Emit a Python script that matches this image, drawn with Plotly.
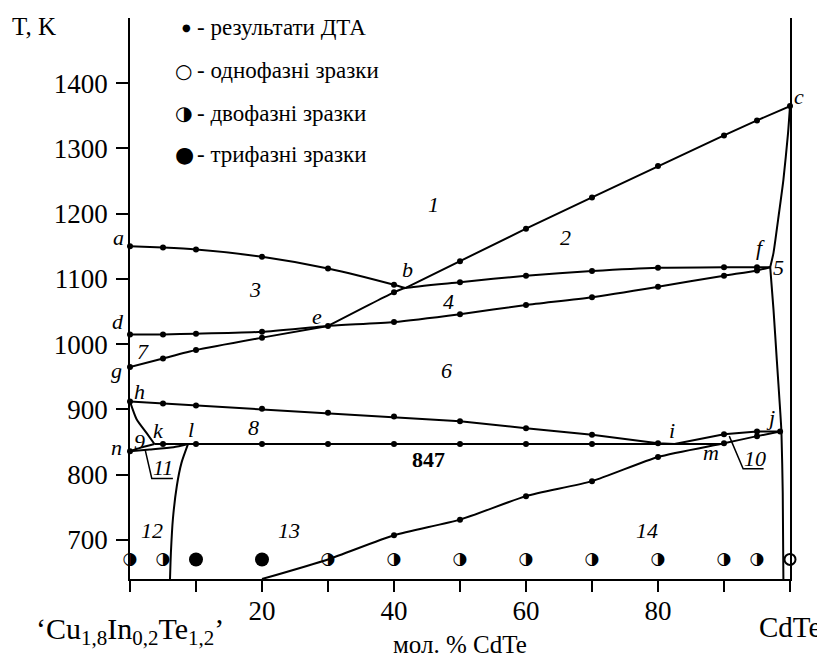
import plotly.graph_objects as go

# ---------------- data (mol. % CdTe, T in K) ----------------
ab_x = [0, 5, 10, 20, 30, 40, 41.7]
ab_T = [1150, 1148, 1145, 1134, 1116, 1091, 1086]
ab_dta = [0, 1, 2, 3, 4, 5]

bc_x = [41.7, 50, 60, 70, 80, 90, 95, 100]
bc_T = [1086, 1127, 1177, 1225, 1273, 1320, 1343, 1365]
bc_dta = [1, 2, 3, 4, 5, 6, 7]

ebf_x = [30, 40, 41.7, 50, 60, 70, 80, 90, 95, 97]
ebf_T = [1028, 1079.5, 1086, 1095, 1105, 1112, 1117, 1118, 1118, 1118]
ebf_dta = [0, 1, 3, 4, 5, 6, 7, 8]

def_x = [0, 5, 10, 20, 30, 40, 50, 60, 70, 80, 90, 95, 97]
def_T = [1015, 1015, 1016, 1019, 1028, 1034, 1046, 1060, 1072, 1088, 1105, 1113, 1118]
def_dta = [0, 1, 2, 3, 5, 6, 7, 8, 9, 10, 11]

ge_x = [0, 5, 10, 20, 30]
ge_T = [965, 978, 991, 1010, 1028]
ge_dta = [0, 1, 2, 3]

hij_x = [0, 5, 10, 20, 30, 40, 50, 60, 70, 80, 82.5, 90, 95, 98.5]
hij_T = [912, 909, 906, 901, 895, 889, 882, 871, 861, 848, 847, 862, 866, 866]
hij_dta = [0, 1, 2, 3, 4, 5, 6, 7, 8, 9, 11, 12]

hk_x = [0, 1, 2.5, 3.7]
hk_T = [912, 885, 864, 847]

nk_x = [0, 1.5, 3.7]
nk_T = [836, 841, 847]

nl_x = [0, 3, 6.6, 8.8]
nl_T = [836, 838.5, 842, 847]
nl_dta = [0]

lsolvus_x = [8.8, 7.8, 7.1, 6.5, 6.2, 6.06]
lsolvus_T = [847, 818, 783, 732, 681, 640]

eut_x = [3.7, 5, 10, 20, 30, 40, 50, 60, 70, 90]
eut_T = [847, 847, 847, 847, 847, 847, 847, 847, 847, 847]
eut_dta = [1, 2, 3, 4, 5, 6, 7, 8]

m_x = [20, 30, 40, 50, 60, 70, 80, 90, 95, 98.5]
m_T = [640, 670, 707, 731, 767, 790, 827, 848, 859, 866]
m_dta = [2, 3, 4, 5, 6, 7, 8, 9]

cf_x = [100, 99.7, 99.0, 98.2, 97.5, 97.0]
cf_T = [1365, 1323, 1252, 1191, 1140, 1118]

fbot_x = [97.0, 97.5, 98.0, 98.5, 98.7, 98.9, 99.0]
fbot_T = [1118, 1053, 976, 900, 866, 772, 640]

# samples annealed (phase analysis)
sample_T = 670
two_phase_x = [0, 5, 30, 40, 50, 60, 70, 80, 90, 95]
three_phase_x = [10, 20]
one_phase_x = [100]

# leader lines for small fields 10 and 11
lead10_x = [90.8, 92.9, 96.0]
lead10_T = [859, 809, 809]
lead11_x = [2.3, 3.3, 6.5]
lead11_T = [838, 794, 794]

y_ticks = [700, 800, 900, 1000, 1100, 1200, 1300, 1400]
x_ticks = [0, 10, 20, 30, 40, 50, 60, 70, 80, 90, 100]
x_ticktext = ["", "", "20", "", "40", "", "60", "", "80", "", ""]

field_labels = ["1", "2", "3", "4", "5", "6", "7", "8", "9", "10", "11", "12", "13", "14"]
field_x = [46.0, 66.0, 18.9, 48.2, 98.3, 48.0, 2.0, 18.7, 1.5, 94.7, 5.05, 3.3, 24.1, 78.3]
field_T = [1214, 1163, 1084, 1066, 1117, 959, 989, 872, 851, 824, 811, 714, 714, 714]

point_labels = ["a", "b", "c", "d", "e", "f", "g", "h", "i", "j", "k", "l", "m", "n"]
point_x = [-1.8, 42.0, 101.3, -1.8, 28.4, 95.6, -2.1, 1.5, 82.1, 97.0, 4.3, 9.3, 88.1, -2.1]
point_T = [1163, 1114, 1380, 1034, 1043, 1148, 959, 928, 867, 887, 867, 869, 834, 841]

legend_text = ["- результати ДТА", "- однофазні зразки", "- двофазні зразки", "- трифазні зразки"]
legend_glyph = ["●", "○", "◑", "●"]

# ---------------- figure ----------------
SERIF = "Liberation Serif, Times New Roman, serif"
X_MIN, X_MAX = 0, 100
fig = go.Figure()

LW = 2.0


def add_curve(xs, ts, shape="spline", smoothing=0.6):
    fig.add_trace(go.Scatter(x=xs, y=ts, mode="lines",
                             line=dict(color="black", width=LW, shape=shape,
                                       smoothing=smoothing if shape == "spline" else None),
                             hoverinfo="skip", showlegend=False, cliponaxis=False))


def add_dta(xs, ts, idx):
    fig.add_trace(go.Scatter(x=[xs[i] for i in idx], y=[ts[i] for i in idx], mode="markers",
                             marker=dict(color="black", size=6),
                             hoverinfo="skip", showlegend=False, cliponaxis=False))


add_curve(ab_x, ab_T)
add_curve(bc_x, bc_T, shape="linear")
add_curve(ebf_x, ebf_T)
add_curve(def_x, def_T)
add_curve(ge_x, ge_T)
add_curve(hij_x, hij_T, shape="linear")
add_curve(hk_x, hk_T)
add_curve(nk_x, nk_T)
add_curve(nl_x, nl_T)
add_curve(lsolvus_x, lsolvus_T)
add_curve(eut_x, eut_T, shape="linear")
add_curve(m_x, m_T)
add_curve(cf_x, cf_T)
add_curve(fbot_x, fbot_T)

fig.add_trace(go.Scatter(x=lead10_x, y=lead10_T, mode="lines", line=dict(color="black", width=1.5),
                         hoverinfo="skip", showlegend=False))
fig.add_trace(go.Scatter(x=lead11_x, y=lead11_T, mode="lines", line=dict(color="black", width=1.5),
                         hoverinfo="skip", showlegend=False))

add_dta(ab_x, ab_T, ab_dta)
add_dta(bc_x, bc_T, bc_dta)
add_dta(ebf_x, ebf_T, ebf_dta)
add_dta(def_x, def_T, def_dta)
add_dta(ge_x, ge_T, ge_dta)
add_dta(hij_x, hij_T, hij_dta)
add_dta(nl_x, nl_T, nl_dta)
add_dta(eut_x, eut_T, eut_dta)
add_dta(m_x, m_T, m_dta)

# samples
fig.add_trace(go.Scatter(x=three_phase_x, y=[sample_T] * len(three_phase_x), mode="markers",
                         marker=dict(color="black", size=14), hoverinfo="skip",
                         showlegend=False, cliponaxis=False))
fig.add_trace(go.Scatter(x=one_phase_x, y=[sample_T] * len(one_phase_x), mode="markers",
                         marker=dict(color="white", size=11, line=dict(color="black", width=2)),
                         hoverinfo="skip", showlegend=False, cliponaxis=False))
fig.add_trace(go.Scatter(x=two_phase_x, y=[sample_T] * len(two_phase_x), mode="text",
                         text=["◑"] * len(two_phase_x), textposition="middle center",
                         textfont=dict(family="DejaVu Sans", size=17, color="black"),
                         hoverinfo="skip", showlegend=False, cliponaxis=False))

annotations = []
for t, x, y in zip(field_labels, field_x, field_T):
    annotations.append(dict(x=x, y=y, xref="x", yref="y", text="<i>%s</i>" % t, showarrow=False,
                            xanchor="center", yanchor="middle",
                            font=dict(family=SERIF, size=22, color="black")))
annotations.append(dict(x=45.2, y=823, xref="x", yref="y", text="<b>847</b>", showarrow=False,
                        xanchor="center", yanchor="middle",
                        font=dict(family=SERIF, size=22, color="black")))
# point letters: x given as fraction of the composition axis so letters just outside stay visible
for t, x, y in zip(point_labels, point_x, point_T):
    annotations.append(dict(x=(x - X_MIN) / (X_MAX - X_MIN), y=y, xref="paper", yref="y",
                            text="<i>%s</i>" % t, showarrow=False,
                            xanchor="center", yanchor="middle",
                            font=dict(family=SERIF, size=22, color="black")))

# legend block
leg_T = [1486, 1419, 1354, 1290]
leg_gx = [8.6, 8.1, 8.1, 8.3]
leg_gsize = [10, 20, 20, 22]
for txt, g, gx, gs, ty in zip(legend_text, legend_glyph, leg_gx, leg_gsize, leg_T):
    annotations.append(dict(x=gx, y=ty, xref="x", yref="y", text=g, showarrow=False,
                            xanchor="center", yanchor="middle",
                            font=dict(family="DejaVu Sans", size=gs, color="black")))
    annotations.append(dict(x=9.9, y=ty, xref="x", yref="y", text=txt, showarrow=False,
                            xanchor="left", yanchor="middle",
                            font=dict(family=SERIF, size=23, color="black")))

# axis captions
annotations.append(dict(x=-0.1455, y=0.984, xref="paper", yref="paper", text="T, K", showarrow=False,
                        xanchor="center", yanchor="middle",
                        font=dict(family=SERIF, size=25, color="black")))
annotations.append(dict(x=0.5, y=-0.117, xref="paper", yref="paper", text="мол. % CdTe",
                        xanchor="center", yanchor="middle",
                        showarrow=False, font=dict(family=SERIF, size=25, color="black")))
annotations.append(dict(x=0, y=-0.092, xref="x", yref="paper",
                        text="‘Cu<sub>1,8</sub>In<sub>0,2</sub>Te<sub>1,2</sub>’",
                        xanchor="center", yanchor="middle",
                        showarrow=False, font=dict(family=SERIF, size=30, color="black")))
annotations.append(dict(x=100, y=-0.085, xref="x", yref="paper", text="CdTe",
                        xanchor="center", yanchor="middle",
                        showarrow=False, font=dict(family=SERIF, size=29, color="black")))

fig.update_layout(
    width=817, height=652, autosize=False,
    margin=dict(l=122, r=35, t=10, b=81),
    paper_bgcolor="white", plot_bgcolor="white",
    showlegend=False,
    annotations=annotations,
    xaxis=dict(range=[X_MIN, X_MAX], showgrid=False, zeroline=False, showline=True,
               linecolor="black", linewidth=1.5, mirror=False,
               ticks="outside", ticklen=11, tickwidth=1.5, tickcolor="black",
               tickvals=x_ticks, ticktext=x_ticktext, ticklabelstandoff=-4,
               tickfont=dict(family=SERIF, size=27, color="black")),
    yaxis=dict(range=[640, 1500], showgrid=False, zeroline=False, showline=True,
               linecolor="black", linewidth=1.5, mirror=True,
               ticks="outside", ticklen=12, tickwidth=1.5, tickcolor="black",
               tickvals=y_ticks, ticklabelstandoff=3,
               tickfont=dict(family=SERIF, size=27, color="black")),
)

fig.write_html("out.html")
